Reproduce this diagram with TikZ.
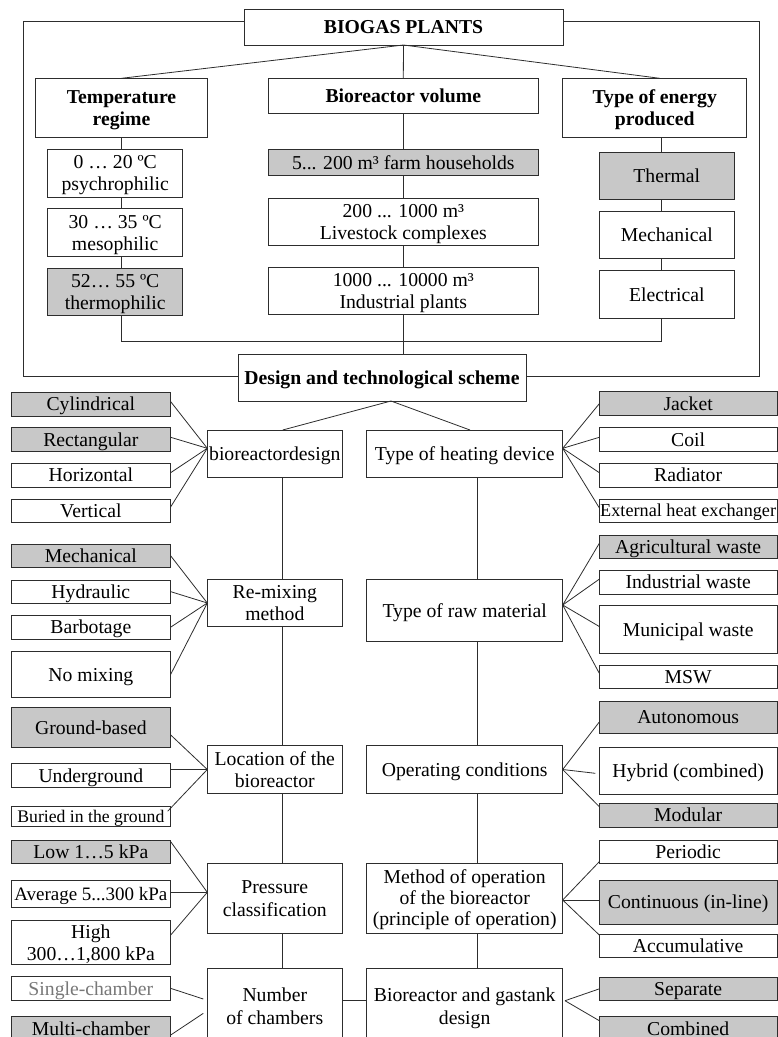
\documentclass[tikz,border=0pt]{standalone}
\usepackage{fontspec}
\setmainfont{Liberation Serif}
\definecolor{linec}{RGB}{45,45,45}
\definecolor{fillg}{RGB}{200,200,200}
\definecolor{txtg}{RGB}{120,120,120}
\newcommand{\mkbx}[7][]{%
  \pgfmathsetmacro{\mbw}{#5-#3}%
  \pgfmathsetmacro{\mbh}{#6-#4}%
  \pgfmathsetmacro{\mbcx}{(#3+#5)/2}%
  \pgfmathsetmacro{\mbcy}{-(#4+#6)/2}%
  \node[box,minimum width=\mbw pt,minimum height=\mbh pt,#1] (#2) at (\mbcx pt,\mbcy pt) {\begin{tabular}[t]{@{}c@{}}#7\end{tabular}};}
\begin{document}
\begin{tikzpicture}[x=1pt,y=1pt,
  box/.style={draw=linec,line width=0.9pt,fill=white,inner sep=0pt,outer sep=0pt,
    text height=13.3pt,text depth=0pt,font=\fontsize{19.7}{22.3}\selectfont},
  bold/.style={font=\fontsize{19.7}{22.3}\selectfont\bfseries},
  l2/.style={text depth=22.3pt},
  l3/.style={text depth=42pt},
  gr/.style={fill=fillg},
  smallA/.style={font=\fontsize{17.7}{20}\selectfont,text height=11.7pt},
  smallB/.style={font=\fontsize{18.2}{20}\selectfont,text height=12pt},
  smallC/.style={font=\fontsize{19}{21}\selectfont},
  conn/.style={draw=linec,line width=0.8pt}]
\useasboundingbox (0,0) rectangle (778pt,-1037pt);
\clip (0,0) rectangle (778pt,-1037pt);
% coordinates
\coordinate (fL1) at (23pt,-21.7pt);
\coordinate (fL2) at (23pt,-376.5pt);
\coordinate (fR1) at (759pt,-21.7pt);
\coordinate (fR2) at (759pt,-376.5pt);
\coordinate (tx) at (121pt,0pt);
\coordinate (jL) at (121pt,-341.7pt);
\coordinate (jR) at (661pt,-341.7pt);
\coordinate (spL) at (282.7pt,0pt);
\coordinate (spR) at (477pt,0pt);
\coordinate (hdT) at (470pt,0pt);
% top level
\mkbx[bold]{bio}{244}{9}{563}{45}{BIOGAS PLANTS}
\mkbx[bold,l2]{temp}{35.7}{78.3}{207.3}{137.3}{Temperature\\regime}
\mkbx[bold]{vol}{268.3}{78.3}{538.3}{113.7}{Bioreactor volume}
\mkbx[bold,l2]{en}{562.7}{78.3}{746.7}{137.3}{Type of energy\\produced}
\mkbx[l2]{t1}{47.7}{149.3}{182.7}{197}{0 … 20 ºC\\psychrophilic}
\mkbx[l2]{t2}{47.7}{208.7}{182.7}{256.3}{30 … 35 ºC\\mesophilic}
\mkbx[l2,gr]{t3}{47.7}{268}{182.7}{315.7}{52… 55 ºC\\thermophilic}
\mkbx[gr]{v1}{268.3}{149.3}{538.3}{175.7}{5... 200 m³ farm households}
\mkbx[l2]{v2}{268.3}{198}{538.3}{245.7}{200 ... 1000 m³\\Livestock complexes}
\mkbx[l2]{v3}{268.3}{267.3}{538.3}{314.7}{1000 ... 10000 m³\\Industrial plants}
\mkbx[gr]{e1}{599.3}{152}{734.3}{199.3}{Thermal}
\mkbx{e2}{599.3}{211.3}{734.3}{258.7}{Mechanical}
\mkbx{e3}{599.3}{270.7}{734.3}{318}{Electrical}
\mkbx[bold]{des}{238}{354}{526}{401}{Design and technological scheme}
% left column
\mkbx{bd}{207.3}{430}{342.3}{477.3}{bioreactordesign}
\mkbx[gr]{c1}{11}{392.3}{170.7}{416}{Cylindrical}
\mkbx[gr]{c2}{11}{427.7}{170.7}{451.3}{Rectangular}
\mkbx{c3}{11}{463.3}{170.7}{487}{Horizontal}
\mkbx{c4}{11}{499}{170.7}{522.7}{Vertical}
\mkbx[l2]{rm}{207.3}{579.3}{342.3}{626.7}{Re-mixing\\method}
\mkbx[gr]{m1}{11}{544}{170.7}{567.7}{Mechanical}
\mkbx{m2}{11}{580}{170.7}{603.3}{Hydraulic}
\mkbx{m3}{11}{615.3}{170.7}{639}{Barbotage}
\mkbx{m4}{11}{651}{170.7}{697.7}{No mixing}
\mkbx[l2]{loc}{207.3}{745.7}{342.3}{793.3}{Location of the\\bioreactor}
\mkbx[gr]{g1}{11}{707.7}{170.7}{747}{Ground-based}
\mkbx{g2}{11}{763.7}{170.7}{787}{Underground}
\mkbx[smallA]{g3}{11}{806.7}{170.7}{826.7}{Buried in the ground}
\mkbx[l2]{pr}{207.3}{863.3}{342.3}{933.3}{Pressure\\classification}
\mkbx[gr]{p1}{11}{840.7}{170.7}{863.7}{Low 1…5 kPa}
\mkbx[smallC]{p2}{11}{880.3}{170.7}{907}{Average 5...300 kPa}
\mkbx[l2]{p3}{11}{920.7}{170.7}{964.3}{High\\300…1,800 kPa}
\mkbx[l2]{nc}{207.3}{968.7}{342.3}{1044}{Number\\of chambers}
\mkbx[text=txtg]{n1}{11}{976.7}{170.7}{1000}{Single-chamber}
\mkbx[gr]{n2}{11}{1016.7}{170.7}{1040}{Multi-chamber}
% right column
\mkbx{hd}{366.7}{430}{562.7}{477.3}{Type of heating device}
\mkbx[gr]{h1}{599.3}{391.7}{777}{415.7}{Jacket}
\mkbx{h2}{599.3}{427.7}{777}{451.3}{Coil}
\mkbx{h3}{599.3}{463.3}{777}{487}{Radiator}
\mkbx[smallB]{h4}{599.3}{499}{777}{522.7}{External heat exchanger}
\mkbx{rw}{366.7}{579.3}{562.7}{641.7}{Type of raw material}
\mkbx[gr]{r1}{599.3}{535}{777}{558.3}{Agricultural waste}
\mkbx{r2}{599.3}{570.3}{777}{594}{Industrial waste}
\mkbx{r3}{599.3}{605.7}{777}{653.3}{Municipal waste}
\mkbx{r4}{599.3}{665.3}{777}{688.7}{MSW}
\mkbx{oc}{366.7}{745.7}{562.7}{793.3}{Operating conditions}
\mkbx[gr]{o1}{599.3}{701}{777}{733.3}{Autonomous}
\mkbx{o2}{599.3}{747.7}{777}{794.3}{Hybrid (combined)}
\mkbx[gr]{o3}{599.3}{803.3}{777}{827}{Modular}
\mkbx[l3]{mo}{366.7}{863.3}{562.7}{933.3}{Method of operation\\[-1.3pt]of the bioreactor\\[-1.3pt](principle of operation)}
\mkbx{q1}{599.3}{840.7}{777}{863.7}{Periodic}
\mkbx[gr]{q2}{599.3}{880.3}{777}{924.3}{Continuous (in-line)}
\mkbx{q3}{599.3}{934}{777}{957.3}{Accumulative}
\mkbx[l2]{gt}{366.7}{968.7}{562.7}{1044}{Bioreactor and gastank\\design}
\mkbx[gr]{s1}{599.3}{977.7}{777}{1000}{Separate}
\mkbx[gr]{s2}{599.3}{1016.7}{777}{1040}{Combined}
% frame
\draw[conn] ([yshift=5.3pt]bio.west) -- (fL1) -- (fL2) -- ([yshift=1pt]des.west);
\draw[conn] ([yshift=5.3pt]bio.east) -- (fR1) -- (fR2) -- ([yshift=1pt]des.east);
% top connectors
\draw[conn] (bio.south) -- (temp.north);
\draw[conn] (bio.south) -- (vol.north);
\draw[conn] (bio.south) -- ([xshift=5pt]en.north);
\draw[conn] (temp.south -| tx) -- (t1.north -| tx);
\draw[conn] (t1.south -| tx) -- (t2.north -| tx);
\draw[conn] (t2.south -| tx) -- (t3.north -| tx);
\draw[conn] (t3.south -| tx) -- (jL) -- (jR) -- (e3.south -| jR);
\draw[conn] (vol.south) -- (v1.north);
\draw[conn] (v1.south) -- (v2.north);
\draw[conn] (v2.south) -- (v3.north);
\draw[conn] (v3.south) -- (v3.south |- des.north);
\draw[conn] (en.south -| jR) -- (e1.north -| jR);
\draw[conn] (e1.south -| jR) -- (e2.north -| jR);
\draw[conn] (e2.south -| jR) -- (e3.north -| jR);
% design to second level
\draw[conn] ([xshift=9pt]des.south) -- (bd.north -| spL);
\draw[conn] ([xshift=9pt]des.south) -- (hd.north -| hdT);
% spines
\draw[conn] (bd.south -| spL) -- (rm.north -| spL);
\draw[conn] (rm.south -| spL) -- (loc.north -| spL);
\draw[conn] (loc.south -| spL) -- (pr.north -| spL);
\draw[conn] (pr.south -| spL) -- (nc.north -| spL);
\draw[conn] (hd.south -| spR) -- (rw.north -| spR);
\draw[conn] (rw.south -| spR) -- (oc.north -| spR);
\draw[conn] (oc.south -| spR) -- (mo.north -| spR);
\draw[conn] (mo.south -| spR) -- (gt.north -| spR);
\draw[conn] ([yshift=6.35pt]nc.east) -- ([yshift=6.35pt]gt.west);
% left fans
\draw[conn] ([yshift=2.5pt]c1.east) -- ([yshift=5.35pt]bd.west);
\draw[conn] ([yshift=2.2pt]c2.east) -- ([yshift=5.35pt]bd.west);
\draw[conn] ([yshift=2.5pt]c3.east) -- ([yshift=5.35pt]bd.west);
\draw[conn] ([yshift=4pt]c4.east) -- ([yshift=5.35pt]bd.west);
\draw[conn] (m1.east) -- (rm.west);
\draw[conn] (m2.east) -- (rm.west);
\draw[conn] (m3.east) -- (rm.west);
\draw[conn] (m4.east) -- (rm.west);
\draw[conn] ([yshift=-7.6pt]g1.east) -- (loc.west);
\draw[conn] (g2.east |- loc.west) -- (loc.west);
\draw[conn] ([xshift=-3pt,yshift=-4.5pt]g3.north east) -- (loc.west);
\draw[conn] ([yshift=-1pt]p1.north east) -- ([yshift=6pt]pr.west);
\draw[conn] (p2.east |- 0,-892.3pt) -- ([yshift=6pt]pr.west);
\draw[conn] ([yshift=7.5pt]p3.east) -- ([yshift=6pt]pr.west);
\draw[conn] (n1.east) -- ([xshift=-4pt,yshift=7.35pt]nc.west);
\draw[conn] ([yshift=-6.65pt]n2.east) -- ([xshift=-4pt,yshift=-7pt]nc.west);
% right fans
\draw[conn] ([yshift=5.35pt]hd.east) -- (h1.west);
\draw[conn] ([yshift=5.35pt]hd.east) -- ([yshift=2.2pt]h2.west);
\draw[conn] ([yshift=5.35pt]hd.east) -- ([yshift=2.5pt]h3.west);
\draw[conn] ([yshift=5.35pt]hd.east) -- ([yshift=3pt]h4.west);
\draw[conn] ([yshift=5.5pt]rw.east) -- ([yshift=3.3pt]r1.west);
\draw[conn] ([yshift=5.5pt]rw.east) -- ([yshift=3pt]r2.west);
\draw[conn] ([yshift=5.5pt]rw.east) -- ([yshift=3pt]r3.west);
\draw[conn] ([yshift=5.5pt]rw.east) -- ([yshift=3.7pt]r4.west);
\draw[conn] (oc.east) -- ([yshift=-4.85pt]o1.west);
\draw[conn] (oc.east) -- ([xshift=-4pt,yshift=-2.3pt]o2.west);
\draw[conn] (oc.east) -- ([yshift=-3.4pt]o3.north west);
\draw[conn] ([yshift=-1.7pt]mo.east) -- ([yshift=2pt]q1.south west);
\draw[conn] ([yshift=-1.7pt]mo.east) -- (q2.west |- 0,-900pt);
\draw[conn] ([yshift=-1.7pt]mo.east) -- ([yshift=-1pt]q3.north west);
\draw[conn] ([xshift=2.3pt,yshift=5.65pt]gt.east) -- (s1.west);
\draw[conn] ([xshift=2.3pt,yshift=5.65pt]gt.east) -- ([yshift=7.65pt]s2.west);
\end{tikzpicture}
\end{document}
